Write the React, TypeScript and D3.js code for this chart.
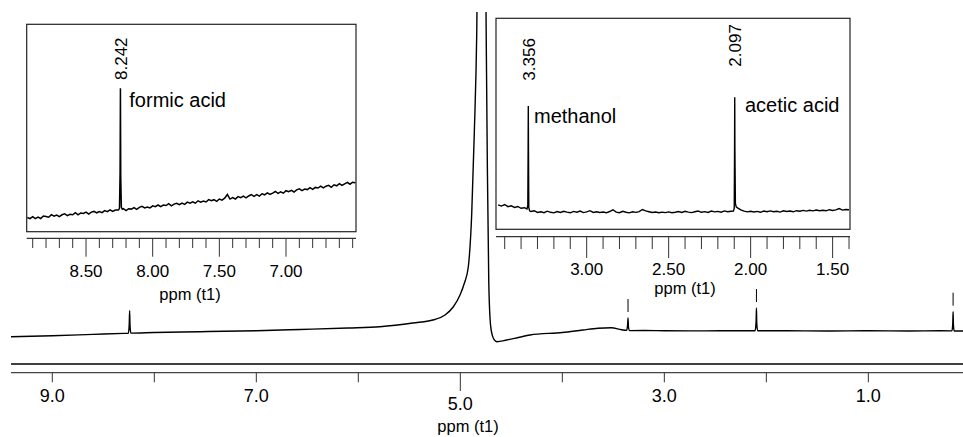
import React from 'react';
import * as d3 from 'd3';

type Pt = [number, number];

// ---------- main spectrum (ppm, intensity) ----------
const mainSpectrum: Pt[] = [
  [9.405, 4.3], [9.0, 5.2], [8.6, 6.6], [8.30, 7.6],
  [8.255, 7.7], [8.246, 16], [8.242, 30.3], [8.238, 15], [8.23, 7.9],
  [8.0, 8.5], [7.55, 9.3], [7.0, 10.3], [6.57, 11.5], [6.1, 13.0], [5.789, 14.3],
  [5.466, 18], [5.25, 21.5], [5.15, 26], [5.07, 34], [5.003, 46], [4.96, 58],
  [4.922, 74], [4.888, 128], [4.863, 208], [4.839, 308],
  [4.81, 600], [4.79, 700], [4.77, 600],
  [4.748, 328], [4.735, 174], [4.721, 58], [4.702, 14.3], [4.676, 2.7],
  [4.643, -0.7], [4.545, 1], [4.42, 3.8], [4.317, 6], [4.0, 8.5], [3.8, 11],
  [3.65, 12.8], [3.52, 13.2], [3.42, 11.3],
  [3.37, 10.6], [3.36, 16], [3.356, 23], [3.352, 14], [3.34, 10.4],
  [3.2, 10.5], [3.0, 10.3], [2.6, 10.1], [2.3, 10.3],
  [2.11, 10.2], [2.10, 20], [2.097, 33], [2.094, 18], [2.085, 10.3],
  [1.8, 10.2], [1.4, 10.0], [1.0, 10.3], [0.6, 10.0], [0.3, 10.2],
  [0.18, 10.1], [0.172, 18], [0.169, 29.3], [0.166, 16], [0.158, 10],
  [0.10, 10.0], [0.072, 10.0],
];
const mainMarkers = [3.356, 2.097, 0.169];
const mainTicks = [9, 8, 7, 6, 5, 4, 3, 2, 1];
const mainLabeled = [9, 7, 5, 3, 1];

// ---------- inset 1 (formic acid region) ----------
const inset1Start = 8.94;
const inset1Step = 0.02;
const inset1Samples = [
  14.2, 13.0, 15.1, 13.1, 14.6, 13.2, 15.7, 15.2, 14.5, 17.0,
  15.5, 16.7, 15.0, 16.9, 17.8, 16.1, 17.4, 16.9, 19.0, 16.8,
  18.7, 18.2, 19.5, 17.6, 19.6, 20.3, 18.9, 20.1, 19.0, 21.1,
  20.1, 21.9, 20.2, 21.7, 21.7, 21.3, 23.0, 21.1, 23.0, 22.6,
  24.1, 22.3, 24.3, 25.3, 23.7, 24.7, 23.8, 25.9, 25.0, 26.7,
  25.0, 26.7, 26.2, 28.1, 25.8, 27.6, 28.4, 27.1, 28.6, 27.3,
  29.6, 28.6, 29.9, 28.5, 30.9, 29.5, 30.7, 29.7, 32.1, 30.9,
  32.0, 30.4, 32.7, 31.6, 33.5, 37.2, 32.6, 34.0, 32.7, 35.1,
  34.0, 35.5, 33.8, 35.7, 37.1, 35.4, 37.0, 35.6, 37.9, 36.9,
  38.8, 37.2, 38.6, 40.2, 38.3, 39.8, 38.5, 41.0, 40.1, 41.4,
  39.7, 41.9, 42.8, 41.1, 42.7, 42.1, 44.1, 42.3, 44.3, 43.7,
  45.6, 43.8, 45.5, 46.3, 44.4, 46.9, 45.9, 48.0, 46.3, 47.9,
  49.4, 47.5, 49.5, 48.9,
];
const inset1Peaks: Pt[][] = [
  [[8.256, 21.9], [8.249, 23.4], [8.2445, 60], [8.242, 143.4], [8.2395, 55], [8.235, 24.5], [8.228, 22.4]],
];
const inset1Ticks = d3.range(89, 64, -1).map((v) => v / 10);
const inset1Major = [8.5, 8.0, 7.5, 7.0];

// ---------- inset 2 (methanol / acetic acid region) ----------
const inset2Start = 3.54;
const inset2Step = 0.02;
const inset2Samples = [
  24.5, 23.2, 24.8, 22.6, 23.5, 21.9, 22.8, 21.0, 21.6, 20.5,
  17.8, 18.6, 16.9, 17.5, 16.6, 18.1, 17.0, 16.4, 17.7, 16.8,
  18.0, 17.2, 16.5, 17.9, 17.1, 18.3, 16.7, 17.4, 18.6, 16.9,
  17.6, 16.8, 17.3, 16.5, 17.8, 19.5, 17.2, 16.6, 18.0, 17.1,
  16.4, 17.5, 16.9, 17.7, 19.8, 18.4, 17.6, 16.8, 17.3, 16.5,
  17.2, 16.7, 17.4, 16.6, 17.1, 17.8, 16.9, 18.0, 17.2, 16.7,
  17.6, 18.3, 17.0, 17.7, 16.8, 18.2, 17.4, 17.9, 17.1, 18.4,
  17.6, 18.0, 18.5, 21.5, 19.5, 18.2, 17.4, 18.1, 17.3, 17.9,
  17.0, 18.2, 17.5, 18.4, 17.6, 18.0, 17.2, 18.5, 17.8, 18.3,
  17.5, 18.6, 18.0, 18.9, 18.2, 19.0, 18.4, 19.3, 18.6, 19.1,
  18.5, 19.6, 18.8, 19.4, 20.8, 19.2, 19.8, 19.5,
];
const inset2Peaks: Pt[][] = [
  [[3.364, 20.3], [3.359, 24], [3.357, 80], [3.356, 123.3], [3.355, 80], [3.353, 22], [3.348, 18.5]],
  [[2.105, 18.2], [2.100, 21], [2.098, 80], [2.097, 132], [2.096, 80], [2.093, 26], [2.088, 22.5]],
];
const inset2Ticks = d3.range(35, 13, -1).map((v) => v / 10);
const inset2Major = [3.0, 2.5, 2.0, 1.5];

const FONT = "'Liberation Sans', Arial, Helvetica, sans-serif";

function mergeSpectrum(start: number, step: number, samples: number[], peaks: Pt[][]): Pt[] {
  const pts: Pt[] = samples.map((v, i) => [start - i * step, v] as Pt);
  const kept = pts.filter(([p]) => !peaks.some((pk) => p <= pk[0][0] && p >= pk[pk.length - 1][0]));
  const all = kept.concat(...peaks);
  all.sort((a, b) => b[0] - a[0]);
  return all;
}

export default function App() {
  // main scales
  const x = d3.scaleLinear().domain([9.405, 0.072]).range([11, 963]);
  const y = d3.scaleLinear().domain([0, 328]).range([341, 13]);
  const mainLine = d3.line<Pt>().x((d) => x(d[0])).y((d) => y(d[1])).curve(d3.curveMonotoneX);

  // inset 1
  const x1 = d3.scaleLinear().domain([8.945, 6.475]).range([26.7, 356]);
  const y1 = d3.scaleLinear().domain([0, 207.4]).range([231.7, 24.3]);
  const s1 = mergeSpectrum(inset1Start, inset1Step, inset1Samples, inset1Peaks);
  const l1 = d3.line<Pt>().x((d) => x1(d[0])).y((d) => y1(d[1]));

  // inset 2
  const x2 = d3.scaleLinear().domain([3.553, 1.394]).range([496, 850]);
  const y2 = d3.scaleLinear().domain([0, 211]).range([229.3, 18.3]);
  const s2 = mergeSpectrum(inset2Start, inset2Step, inset2Samples, inset2Peaks);
  const l2 = d3.line<Pt>().x((d) => x2(d[0])).y((d) => y2(d[1]));

  const peakTop = (p: number) => {
    const pt = mainSpectrum.find((d) => d[0] === p);
    return pt ? y(pt[1]) : y(20);
  };

  const fmt1 = d3.format('.1f');
  const fmt2 = d3.format('.2f');

  return (
    <svg
      width={963}
      height={437}
      viewBox="0 0 963 437"
      style={{ position: 'absolute', left: 0, top: 0, background: '#fff' }}
      fontFamily={FONT}
    >
      <defs>
        <clipPath id="mainClip">
          <rect x={11} y={12} width={952} height={340} />
        </clipPath>
      </defs>
      <rect x={0} y={0} width={963} height={437} fill="#fff" />

      {/* main spectrum */}
      <path d={mainLine(mainSpectrum) || ''} fill="none" stroke="#000" strokeWidth={1.4} clipPath="url(#mainClip)" />
      {mainMarkers.map((p) => (
        <line key={p} x1={x(p)} x2={x(p)} y1={peakTop(p) - 6} y2={peakTop(p) - 19} stroke="#000" strokeWidth={1} />
      ))}

      {/* main axis */}
      <line x1={11} x2={963} y1={364} y2={364} stroke="#000" strokeWidth={1.4} />
      <line x1={11} x2={963} y1={372.7} y2={372.7} stroke="#444" strokeWidth={1.2} />
      {mainTicks.map((t) => (
        <line key={t} x1={x(t)} x2={x(t)} y1={372.7} y2={t === 5 ? 391 : 382.3} stroke="#333" strokeWidth={1} />
      ))}
      {mainLabeled.map((t) => (
        <text key={t} x={x(t)} y={t === 5 ? 410 : 402} fontSize={18} textAnchor="middle" fill="#000">
          {fmt1(t)}
        </text>
      ))}
      <text x={468} y={432} fontSize={16.5} textAnchor="middle" fill="#000">ppm (t1)</text>

      {/* inset 1 */}
      <rect x={26.7} y={24.3} width={329.3} height={207.4} fill="#fff" stroke="#222" strokeWidth={1.2} />
      <path d={l1(s1) || ''} fill="none" stroke="#000" strokeWidth={1.5} />
      <line x1={26.7} x2={356} y1={238.3} y2={238.3} stroke="#333" strokeWidth={1.2} />
      {inset1Ticks.map((t) => {
        const major = inset1Major.some((m) => Math.abs(m - t) < 1e-6);
        return <line key={t} x1={x1(t)} x2={x1(t)} y1={238.3} y2={major ? 256.7 : 248} stroke="#333" strokeWidth={1} />;
      })}
      {inset1Major.map((t) => (
        <text key={t} x={x1(t)} y={277} fontSize={17} textAnchor="middle" fill="#000">{fmt2(t)}</text>
      ))}
      <text x={190} y={300} fontSize={16.5} textAnchor="middle" fill="#000">ppm (t1)</text>
      <text transform={`translate(${x1(8.242) + 7},80) rotate(-90)`} fontSize={17} fill="#000">8.242</text>
      <text x={129.3} y={107} fontSize={20} fill="#000">formic acid</text>

      {/* inset 2 */}
      <rect x={496} y={18.3} width={354} height={211} fill="#fff" stroke="#222" strokeWidth={1.2} />
      <path d={l2(s2) || ''} fill="none" stroke="#000" strokeWidth={1.4} />
      <line x1={496} x2={850} y1={236.7} y2={236.7} stroke="#333" strokeWidth={1.2} />
      {inset2Ticks.map((t) => {
        const major = inset2Major.some((m) => Math.abs(m - t) < 1e-6);
        return <line key={t} x1={x2(t)} x2={x2(t)} y1={236.7} y2={major ? 258 : 249} stroke="#333" strokeWidth={1} />;
      })}
      {inset2Major.map((t) => (
        <text key={t} x={x2(t)} y={275} fontSize={17} textAnchor="middle" fill="#000">{fmt2(t)}</text>
      ))}
      <text x={685} y={294} fontSize={16.5} textAnchor="middle" fill="#000">ppm (t1)</text>
      <text transform={`translate(${x2(3.356) + 6.5},80.7) rotate(-90)`} fontSize={17} fill="#000">3.356</text>
      <text transform={`translate(${x2(2.097) + 6.5},66.7) rotate(-90)`} fontSize={17} fill="#000">2.097</text>
      <text x={534} y={123} fontSize={20} fill="#000">methanol</text>
      <text x={745} y={111.7} fontSize={20} fill="#000">acetic acid</text>
    </svg>
  );
}
